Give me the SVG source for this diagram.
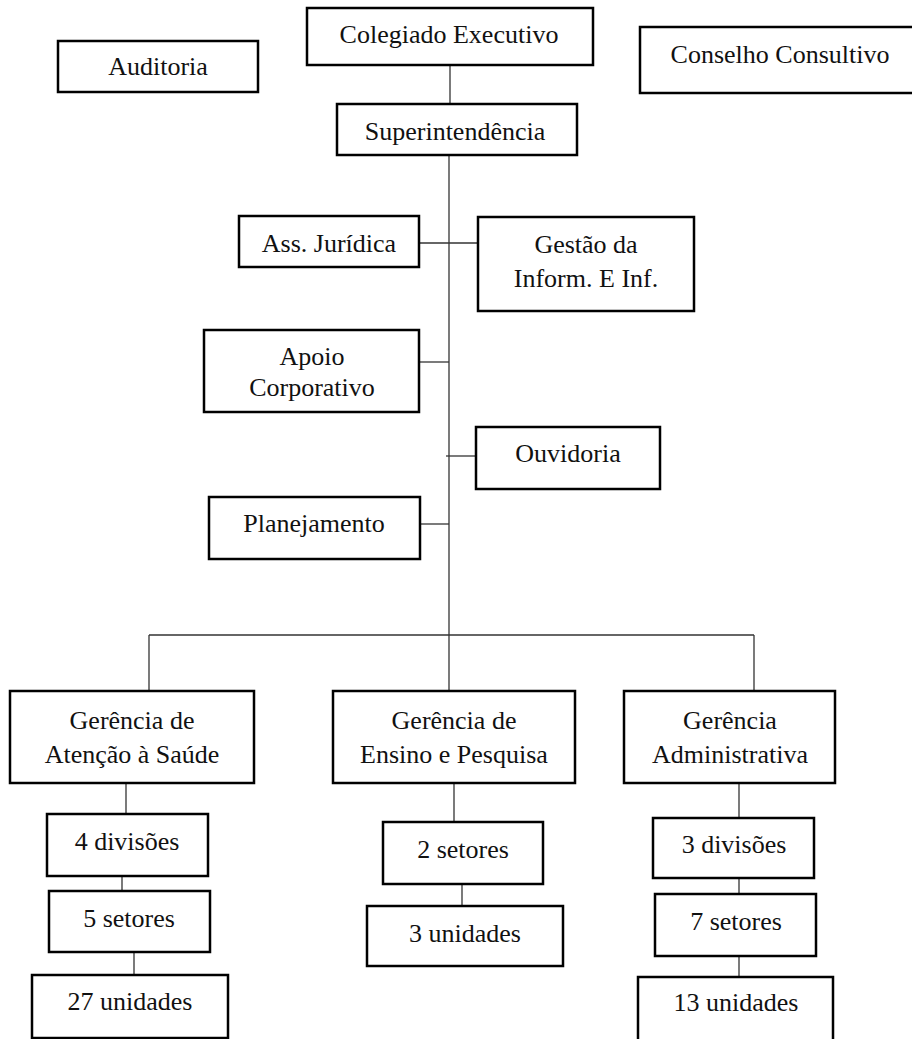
<svg xmlns="http://www.w3.org/2000/svg" width="912" height="1039" viewBox="0 0 912 1039">
  <style>
    .box { fill: #ffffff; stroke: #000000; stroke-width: 2.5; }
    .conn { stroke: #333333; stroke-width: 1.3; fill: none; }
    text { font-family: "Liberation Serif", "Times New Roman", serif; font-size: 26px; fill: #111111; text-anchor: middle; }
  </style>
  <rect width="912" height="1039" fill="#ffffff"/>

  <!-- connectors -->
  <g id="connectors">
    <line class="conn" x1="450" y1="65" x2="450" y2="104"/>
    <line class="conn" x1="449" y1="155" x2="449" y2="691"/>
    <line class="conn" x1="419" y1="243" x2="478" y2="243"/>
    <line class="conn" x1="419" y1="362" x2="449" y2="362"/>
    <line class="conn" x1="446" y1="456" x2="476" y2="456"/>
    <line class="conn" x1="420" y1="524" x2="449" y2="524"/>
    <line class="conn" x1="149" y1="635" x2="754" y2="635"/>
    <line class="conn" x1="149" y1="635" x2="149" y2="691"/>
    <line class="conn" x1="754" y1="635" x2="754" y2="691"/>
    <line class="conn" x1="126" y1="783" x2="126" y2="814"/>
    <line class="conn" x1="122" y1="872" x2="122" y2="891"/>
    <line class="conn" x1="134" y1="952" x2="134" y2="975"/>
    <line class="conn" x1="454" y1="783" x2="454" y2="822"/>
    <line class="conn" x1="462" y1="884" x2="462" y2="906"/>
    <line class="conn" x1="739" y1="783" x2="739" y2="818"/>
    <line class="conn" x1="739" y1="876" x2="739" y2="894"/>
    <line class="conn" x1="739" y1="956" x2="739" y2="977"/>
  </g>

  <g id="colegiado">
    <rect class="box" x="307" y="8" width="286" height="57"/>
    <text x="449" y="43">Colegiado Executivo</text>
  </g>
  <g id="auditoria">
    <rect class="box" x="58" y="41" width="200" height="51"/>
    <text x="158" y="75">Auditoria</text>
  </g>
  <g id="conselho">
    <rect class="box" x="640" y="27" width="276" height="66"/>
    <text x="780" y="63">Conselho Consultivo</text>
  </g>
  <g id="superintendencia">
    <rect class="box" x="337" y="104" width="240" height="51"/>
    <text x="455" y="140">Superintendência</text>
  </g>
  <g id="juridica">
    <rect class="box" x="239" y="216" width="180" height="51"/>
    <text x="329" y="252">Ass. Jurídica</text>
  </g>
  <g id="gestao">
    <rect class="box" x="478" y="217" width="216" height="94"/>
    <text x="586" y="253">Gestão da</text>
    <text x="586" y="287">Inform. E Inf.</text>
  </g>
  <g id="apoio">
    <rect class="box" x="204" y="330" width="215" height="82"/>
    <text x="312" y="365">Apoio</text>
    <text x="312" y="396">Corporativo</text>
  </g>
  <g id="ouvidoria">
    <rect class="box" x="476" y="427" width="184" height="62"/>
    <text x="568" y="462">Ouvidoria</text>
  </g>
  <g id="planejamento">
    <rect class="box" x="209" y="497" width="211" height="62"/>
    <text x="314" y="532">Planejamento</text>
  </g>

  <g id="gerencia-saude">
    <rect class="box" x="10" y="691" width="244" height="92"/>
    <text x="132" y="729">Gerência de</text>
    <text x="132" y="763">Atenção à Saúde</text>
  </g>
  <g id="gerencia-ensino">
    <rect class="box" x="333" y="691" width="242" height="92"/>
    <text x="454" y="729">Gerência de</text>
    <text x="454" y="763">Ensino e Pesquisa</text>
  </g>
  <g id="gerencia-adm">
    <rect class="box" x="624" y="691" width="211" height="92"/>
    <text x="730" y="729">Gerência</text>
    <text x="730" y="763">Administrativa</text>
  </g>

  <g id="saude-divisoes">
    <rect class="box" x="47" y="814" width="161" height="62"/>
    <text x="127" y="850">4 divisões</text>
  </g>
  <g id="saude-setores">
    <rect class="box" x="49" y="891" width="161" height="61"/>
    <text x="129" y="927">5 setores</text>
  </g>
  <g id="saude-unidades">
    <rect class="box" x="32" y="975" width="196" height="63"/>
    <text x="130" y="1010">27 unidades</text>
  </g>

  <g id="ensino-setores">
    <rect class="box" x="383" y="822" width="160" height="62"/>
    <text x="463" y="858">2 setores</text>
  </g>
  <g id="ensino-unidades">
    <rect class="box" x="367" y="906" width="196" height="60"/>
    <text x="465" y="942">3 unidades</text>
  </g>

  <g id="adm-divisoes">
    <rect class="box" x="653" y="818" width="161" height="60"/>
    <text x="734" y="853">3 divisões</text>
  </g>
  <g id="adm-setores">
    <rect class="box" x="655" y="894" width="161" height="62"/>
    <text x="736" y="930">7 setores</text>
  </g>
  <g id="adm-unidades">
    <rect class="box" x="638" y="977" width="195" height="66"/>
    <text x="736" y="1011">13 unidades</text>
  </g>
</svg>
